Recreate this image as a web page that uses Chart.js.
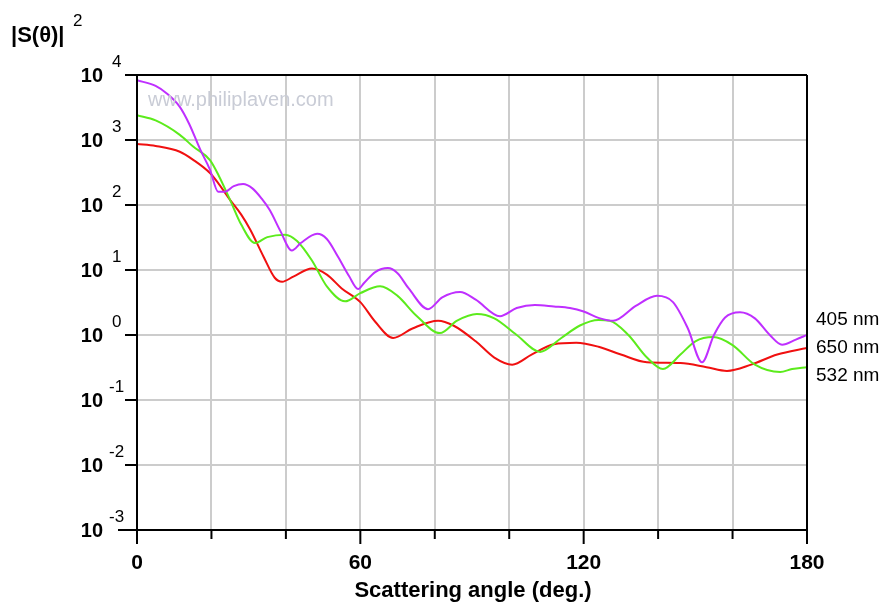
<!DOCTYPE html>
<html>
<head>
<meta charset="utf-8">
<script src="https://cdn.jsdelivr.net/npm/chart.js@4/dist/chart.umd.min.js"></script>
<style>
  html, body { margin: 0; padding: 0; background: #fff; }
</style>
</head>
<body>
<canvas id="mieChart" width="890" height="604"></canvas>
<script>
  'use strict';

  // |S(theta)|^2, log y axis
  var decades = [-3, -2, -1, 0, 1, 2, 3, 4];
  var xTicks = [0, 60, 120, 180];

  var angles405 = [0, 5, 8, 11.5, 14, 17, 19.6, 21.8, 23.6, 26, 28.5, 31, 33.5, 35.7, 38.5, 41.6, 44, 48.4, 51, 54, 57, 59.4, 61, 64, 67.4, 70, 73, 78.2, 82, 86.8, 91, 97.5, 102, 106.9, 112, 116.3, 120, 124.4, 127.9, 134, 139.7, 144, 148, 151.8, 155, 158, 162, 166, 170, 173.3, 177, 180];
  var values405 = [8300, 6800, 5200, 3240, 1780, 710, 350, 160, 160, 195, 210, 180, 125, 83, 40, 20, 26, 36, 30, 16, 8, 5.1, 6.3, 9.3, 10.7, 8.9, 5.2, 2.5, 3.8, 4.6, 3.5, 1.95, 2.6, 2.9, 2.75, 2.6, 2.3, 1.8, 1.65, 2.8, 4.0, 3.2, 1.26, 0.38, 1.0, 1.86, 2.24, 1.8, 1.0, 0.71, 0.85, 1.0];

  var angles532 = [0, 5, 11.5, 15, 19.6, 22, 25, 28, 31.7, 35, 39.8, 43, 47, 51, 55.9, 60, 65.3, 70, 75, 81.4, 86, 91.3, 96, 102, 108.3, 114, 119, 124, 127, 132, 137, 141.3, 146, 150, 154.8, 160, 166, 172.8, 176, 180];
  var values532 = [2400, 2000, 1200, 800, 490, 280, 120, 50, 26, 32, 35, 28, 14, 5.6, 3.3, 4.4, 5.6, 4.0, 2.0, 1.07, 1.66, 2.1, 1.8, 1.0, 0.55, 0.9, 1.4, 1.7, 1.66, 1.0, 0.45, 0.3, 0.5, 0.8, 0.93, 0.7, 0.35, 0.27, 0.3, 0.32];

  var angles650 = [0, 5, 11.5, 15, 19.6, 22, 25, 28, 30.4, 34, 37, 39, 42, 47, 51, 55, 60, 64, 68.8, 74, 80.9, 85, 91, 96, 100.8, 106, 112, 118, 124, 130, 137, 146, 153, 158.5, 165, 172, 180];
  var values650 = [870, 810, 660, 500, 310, 210, 120, 71, 42, 16, 7.6, 6.6, 7.9, 10.5, 8.5, 5.2, 3.2, 1.6, 0.9, 1.26, 1.66, 1.4, 0.8, 0.45, 0.35, 0.5, 0.72, 0.76, 0.66, 0.5, 0.38, 0.37, 0.32, 0.28, 0.35, 0.5, 0.63];

  var seriesLabels = ['405 nm', '650 nm', '532 nm'];

  function toPoints(xs, ys) {
    return xs.map(function (x, i) { return { x: x, y: ys[i] }; });
  }

  function lineSet(label, xs, ys, color) {
    return {
      label: label,
      data: toPoints(xs, ys),
      borderColor: color,
      borderWidth: 2,
      pointRadius: 0,
      fill: false,
      cubicInterpolationMode: 'monotone'
    };
  }

  var FAM = '"Liberation Sans", Arial, sans-serif';

  var decor = {
    id: 'decor',
    afterDraw: function (chart) {
      var c = chart.ctx;
      var a = chart.chartArea;
      var xs = chart.scales.x;
      var ys = chart.scales.y;
      c.save();

      // frame
      c.strokeStyle = '#000';
      c.lineWidth = 2;
      c.beginPath();
      c.moveTo(a.left - 12, a.top); c.lineTo(a.right, a.top);
      c.moveTo(a.right, a.top); c.lineTo(a.right, a.bottom);
      c.moveTo(a.left - 19, a.bottom); c.lineTo(a.right, a.bottom);
      c.moveTo(a.left, a.top); c.lineTo(a.left, a.bottom + 14);
      c.stroke();

      // left decade ticks and labels
      c.fillStyle = '#000';
      decades.forEach(function (d) {
        var y = ys.getPixelForValue(Math.pow(10, d));
        c.beginPath();
        c.moveTo(a.left - 12, y); c.lineTo(a.left, y);
        c.stroke();
        c.font = 'bold 20px ' + FAM;
        c.textAlign = 'right';
        c.textBaseline = 'middle';
        c.fillText('10', 103, y + 1);
        c.font = '17px ' + FAM;
        c.textAlign = 'left';
        c.fillText(String(d), d < 0 ? 109 : 112, y - 13);
      });

      // bottom ticks
      for (var v = 0; v <= 180; v += 20) {
        var px = xs.getPixelForValue(v);
        c.beginPath();
        c.moveTo(px, a.bottom);
        c.lineTo(px, a.bottom + (v % 60 === 0 ? 14 : 9));
        c.stroke();
      }
      c.font = 'bold 21px ' + FAM;
      c.textAlign = 'center';
      c.textBaseline = 'middle';
      xTicks.forEach(function (t) {
        c.fillText(String(t), xs.getPixelForValue(t), 563);
      });
      c.font = 'bold 22px ' + FAM;
      c.fillText('Scattering angle (deg.)', 473, 591);

      // y title
      c.textAlign = 'left';
      c.font = 'bold 22px ' + FAM;
      c.fillText('|S(\u03B8)|', 11, 36);
      c.font = '17px ' + FAM;
      c.fillText('2', 73, 21);

      // watermark
      c.font = '20px ' + FAM;
      c.fillStyle = '#c9ccd6';
      c.fillText('www.philiplaven.com', 148, 100);

      // series labels at right
      c.fillStyle = '#000';
      c.font = '19px ' + FAM;
      c.fillText(seriesLabels[0], 816, 320);
      c.fillText(seriesLabels[1], 816, 348);
      c.fillText(seriesLabels[2], 816, 376);

      c.restore();
    }
  };

  new Chart(document.getElementById('mieChart'), {
    type: 'line',
    data: {
      datasets: [
        lineSet('405 nm', angles405, values405, '#bf2fff'),
        lineSet('532 nm', angles532, values532, '#5ceb1c'),
        lineSet('650 nm', angles650, values650, '#f01010')
      ]
    },
    options: {
      responsive: false,
      animation: false,
      layout: { padding: { left: 137, right: 83, top: 75, bottom: 74 } },
      plugins: { legend: { display: false }, tooltip: { enabled: false } },
      scales: {
        x: {
          type: 'linear',
          min: 0,
          max: 180,
          afterBuildTicks: function (s) {
            var t = [];
            for (var v = 0; v <= 180; v += 20) t.push({ value: v });
            s.ticks = t;
          },
          afterFit: function (s) { s.height = 0; },
          ticks: { display: false },
          grid: { color: '#cccccc', lineWidth: 2, drawTicks: false },
          border: { display: false }
        },
        y: {
          type: 'logarithmic',
          min: 0.001,
          max: 10000,
          afterBuildTicks: function (s) {
            s.ticks = decades.map(function (d) { return { value: Math.pow(10, d) }; });
          },
          afterFit: function (s) { s.width = 0; },
          ticks: { display: false },
          grid: { color: '#cccccc', lineWidth: 2, drawTicks: false },
          border: { display: false }
        }
      }
    },
    plugins: [decor]
  });
</script>
</body>
</html>
